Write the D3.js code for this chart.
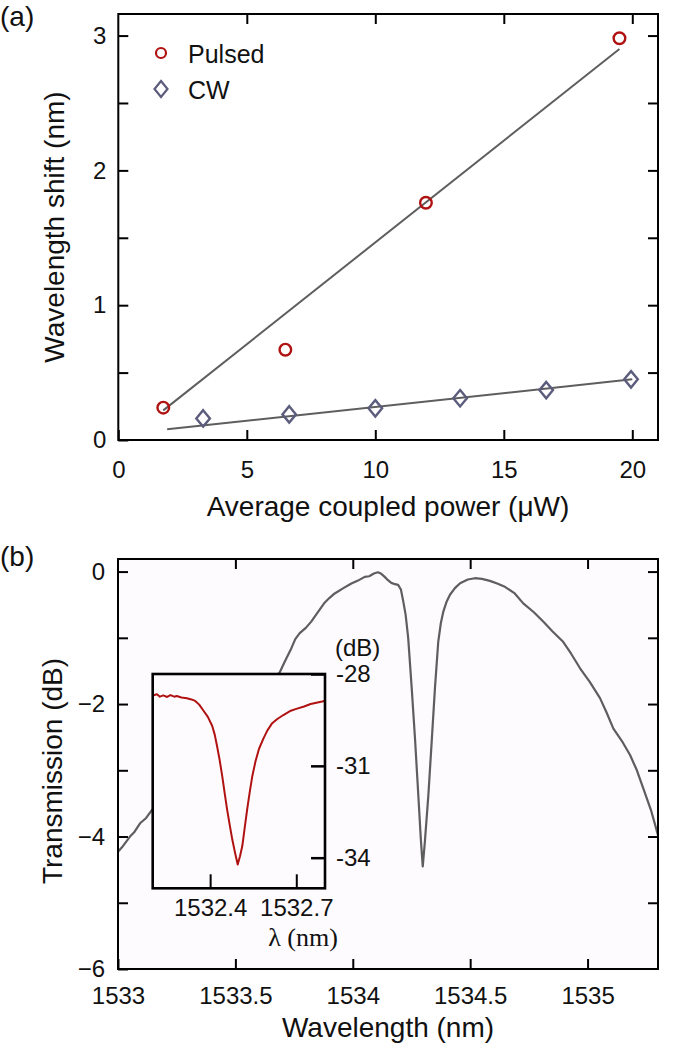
<!DOCTYPE html>
<html>
<head>
<meta charset="utf-8">
<script src="https://cdn.jsdelivr.net/npm/d3@7"></script>
<style>
  html, body { margin: 0; padding: 0; background: #ffffff; }
  svg { display: block; }
  text { font-family: "Liberation Sans", Arial, Helvetica, sans-serif; fill: #111; }
</style>
</head>
<body>
<script>
// ---------- Panel (a) data ----------
const pulsedPower = [1.75, 6.5, 11.97, 19.5];
const pulsedShift = [0.24, 0.67, 1.76, 2.98];
const cwPower = [3.3, 6.65, 10.0, 13.3, 16.65, 19.95];
const cwShift = [0.16, 0.19, 0.235, 0.31, 0.37, 0.45];
const pulsedFitPower = [1.75, 19.5];
const pulsedFitShift = [0.22, 2.9];
const cwFitPower = [1.9, 20.0];
const cwFitShift = [0.08, 0.45];
const aXTicks = [0, 5, 10, 15, 20];
const aYTicks = [0, 0.5, 1, 1.5, 2, 2.5, 3];
const legendLabels = ["Pulsed", "CW"];

// ---------- Panel (b) data ----------
const specWl = [1533.000,1533.020,1533.051,1533.070,1533.094,1533.120,1533.144,1533.250,1533.400,1533.550,1533.650,1533.689,1533.710,1533.738,1533.755,1533.774,1533.800,1533.823,1533.850,1533.880,1533.900,1533.923,1533.960,1533.994,1534.020,1534.051,1534.070,1534.090,1534.107,1534.120,1534.136,1534.150,1534.164,1534.180,1534.193,1534.205,1534.215,1534.225,1534.236,1534.251,1534.265,1534.279,1534.290,1534.298,1534.307,1534.322,1534.336,1534.350,1534.364,1534.375,1534.386,1534.400,1534.414,1534.435,1534.457,1534.490,1534.520,1534.550,1534.584,1534.615,1534.648,1534.690,1534.726,1534.770,1534.811,1534.850,1534.896,1534.930,1534.968,1535.010,1535.053,1535.080,1535.110,1535.150,1535.181,1535.210,1535.237,1535.270,1535.300];
const specDb = [-4.23,-4.15,-4.00,-3.93,-3.80,-3.72,-3.60,-3.25,-2.70,-2.10,-1.70,-1.52,-1.36,-1.16,-1.02,-0.93,-0.85,-0.755,-0.62,-0.47,-0.40,-0.33,-0.25,-0.18,-0.14,-0.08,-0.07,-0.03,-0.01,-0.03,-0.08,-0.13,-0.17,-0.19,-0.20,-0.27,-0.45,-0.65,-1.00,-1.76,-2.52,-3.37,-4.05,-4.45,-4.08,-3.37,-2.57,-1.76,-1.06,-0.78,-0.60,-0.45,-0.35,-0.25,-0.175,-0.12,-0.10,-0.11,-0.14,-0.18,-0.23,-0.33,-0.48,-0.61,-0.755,-0.90,-1.06,-1.24,-1.46,-1.67,-1.91,-2.12,-2.37,-2.58,-2.77,-3.00,-3.27,-3.60,-3.98];
const bXTicks = [1533, 1533.5, 1534, 1534.5, 1535];
const bYTicks = [-6, -5, -4, -3, -2, -1, 0];

// inset
const insetWl = [1532.200,1532.215,1532.225,1532.237,1532.250,1532.262,1532.275,1532.284,1532.300,1532.319,1532.335,1532.348,1532.362,1532.377,1532.392,1532.407,1532.416,1532.424,1532.433,1532.442,1532.450,1532.459,1532.468,1532.477,1532.487,1532.496,1532.504,1532.512,1532.520,1532.529,1532.538,1532.547,1532.558,1532.570,1532.585,1532.599,1532.615,1532.634,1532.655,1532.681,1532.700,1532.727,1532.750,1532.774,1532.790,1532.803];
const insetDb = [-28.70,-28.66,-28.74,-28.70,-28.75,-28.69,-28.74,-28.72,-28.77,-28.79,-28.83,-28.88,-29.00,-29.20,-29.40,-29.69,-29.98,-30.35,-30.80,-31.33,-31.85,-32.42,-32.92,-33.40,-33.85,-34.22,-33.95,-33.62,-33.05,-32.42,-31.85,-31.33,-30.85,-30.45,-30.12,-29.85,-29.62,-29.47,-29.34,-29.20,-29.14,-29.06,-28.98,-28.93,-28.90,-28.87];
const insetXTicks = [1532.4, 1532.7];
const insetYTicks = [-34, -31, -28];

// ---------- drawing ----------
const W = 685, H = 1044;
const svg = d3.select("body").append("svg").attr("width", W).attr("height", H);

const TICK_FS = 24, TITLE_FS = 28;
const gray = "#5e5e5e", red = "#b01212", slate = "#5c5c7c", bg = "#fefbfe";

function styleAxis(g, fs) {
  g.select(".domain").remove();
  g.selectAll(".tick line").attr("stroke", "#000").attr("stroke-width", 2);
  g.selectAll(".tick text").attr("font-size", fs).attr("fill", "#111")
    .attr("font-family", '"Liberation Sans", Arial, sans-serif');
}

// ===== Panel (a) =====
const aL = 118.3, aR = 658, aT = 14, aB = 440;
const xa = d3.scaleLinear().domain([0, 21]).range([aL, aR]);
const ya = d3.scaleLinear().domain([0, 3.16]).range([aB, aT]);

svg.append("text").attr("x", 0).attr("y", 26).attr("font-size", TITLE_FS).text("(a)");

const fmtInt = d => (Number.isInteger(d) ? String(d) : "");
svg.append("g").attr("transform", `translate(${aL},0)`)
  .call(d3.axisLeft(ya).tickValues(aYTicks).tickSize(-10).tickPadding(12).tickFormat(fmtInt))
  .call(g => styleAxis(g, TICK_FS));
svg.append("g").attr("transform", `translate(${aR},0)`)
  .call(d3.axisRight(ya).tickValues(aYTicks.slice(1)).tickSize(-10).tickFormat(""))
  .call(g => styleAxis(g, TICK_FS));
svg.append("g").attr("transform", `translate(0,${aB})`)
  .call(d3.axisBottom(xa).tickValues(aXTicks).tickSize(-10).tickPadding(21).tickFormat(d3.format("d")))
  .call(g => styleAxis(g, TICK_FS));
svg.append("g").attr("transform", `translate(0,${aT})`)
  .call(d3.axisTop(xa).tickValues(aXTicks.slice(1)).tickSize(-10).tickFormat(""))
  .call(g => styleAxis(g, TICK_FS));
svg.append("rect").attr("x", aL).attr("y", aT).attr("width", aR - aL).attr("height", aB - aT)
  .attr("fill", "none").attr("stroke", "#000").attr("stroke-width", 2);

const lineA = d3.line().x(d => xa(d[0])).y(d => ya(d[1]));
svg.append("path").attr("d", lineA(d3.zip(pulsedFitPower, pulsedFitShift)))
  .attr("fill", "none").attr("stroke", gray).attr("stroke-width", 2);
svg.append("path").attr("d", lineA(d3.zip(cwFitPower, cwFitShift)))
  .attr("fill", "none").attr("stroke", gray).attr("stroke-width", 2);

const diamond = (cx, cy, hw, hh) => `M${cx},${cy - hh}L${cx + hw},${cy}L${cx},${cy + hh}L${cx - hw},${cy}Z`;

svg.append("g").selectAll("circle").data(d3.zip(pulsedPower, pulsedShift)).join("circle")
  .attr("cx", d => xa(d[0])).attr("cy", d => ya(d[1])).attr("r", 5.8)
  .attr("fill", "none").attr("stroke", red).attr("stroke-width", 2.4);
svg.append("g").selectAll("path").data(d3.zip(cwPower, cwShift)).join("path")
  .attr("d", d => diamond(xa(d[0]), ya(d[1]), 6.8, 8.2))
  .attr("fill", "none").attr("stroke", slate).attr("stroke-width", 2.4);

// legend
svg.append("circle").attr("cx", 161).attr("cy", 53).attr("r", 5)
  .attr("fill", "none").attr("stroke", red).attr("stroke-width", 2.2);
svg.append("path").attr("d", diamond(161, 89, 6.5, 8))
  .attr("fill", "none").attr("stroke", slate).attr("stroke-width", 2.2);
svg.append("text").attr("x", 188).attr("y", 63).attr("font-size", 25).text(legendLabels[0]);
svg.append("text").attr("x", 188).attr("y", 99).attr("font-size", 25).text(legendLabels[1]);

// titles
svg.append("text").attr("x", 388).attr("y", 516).attr("text-anchor", "middle")
  .attr("font-size", TITLE_FS).text("Average coupled power (μW)");
svg.append("text").attr("transform", `translate(64,${(aT + aB) / 2}) rotate(-90)`)
  .attr("text-anchor", "middle").attr("font-size", TITLE_FS).text("Wavelength shift (nm)");

// ===== Panel (b) =====
const bL = 118, bR = 658, bT = 559, bB = 969;
const xb = d3.scaleLinear().domain([1533, 1535.3]).range([bL, bR]);
const yb = d3.scaleLinear().domain([-6, 0.19]).range([bB, bT]);

svg.append("text").attr("x", 0).attr("y", 566).attr("font-size", TITLE_FS).text("(b)");

svg.append("rect").attr("x", bL).attr("y", bT).attr("width", bR - bL).attr("height", bB - bT)
  .attr("fill", bg);

svg.append("defs").append("clipPath").attr("id", "clipB").append("rect")
  .attr("x", bL).attr("y", bT).attr("width", bR - bL).attr("height", bB - bT);

const lineB = d3.line().x(d => xb(d[0])).y(d => yb(d[1]));
svg.append("path").attr("d", lineB(d3.zip(specWl, specDb))).attr("clip-path", "url(#clipB)")
  .attr("fill", "none").attr("stroke", gray).attr("stroke-width", 2.2).attr("stroke-linejoin", "round");

svg.append("g").attr("transform", `translate(${bL},0)`)
  .call(d3.axisLeft(yb).tickValues(bYTicks).tickSize(-10).tickPadding(13)
    .tickFormat(d => (d % 2 === 0 ? d3.format("d")(d) : "")))
  .call(g => styleAxis(g, TICK_FS));
svg.append("g").attr("transform", `translate(${bR},0)`)
  .call(d3.axisRight(yb).tickValues(bYTicks.slice(1)).tickSize(-10).tickFormat(""))
  .call(g => styleAxis(g, TICK_FS));
svg.append("g").attr("transform", `translate(0,${bB})`)
  .call(d3.axisBottom(xb).tickValues(bXTicks).tickSize(-10).tickPadding(18).tickFormat(d => String(d)))
  .call(g => styleAxis(g, TICK_FS));
svg.append("g").attr("transform", `translate(0,${bT})`)
  .call(d3.axisTop(xb).tickValues(bXTicks.slice(1)).tickSize(-10).tickFormat(""))
  .call(g => styleAxis(g, TICK_FS));
svg.append("rect").attr("x", bL).attr("y", bT).attr("width", bR - bL).attr("height", bB - bT)
  .attr("fill", "none").attr("stroke", "#000").attr("stroke-width", 2);

svg.append("text").attr("x", 388).attr("y", 1037).attr("text-anchor", "middle")
  .attr("font-size", TITLE_FS).text("Wavelength (nm)");
svg.append("text").attr("transform", `translate(62,${(bT + bB) / 2 + 7}) rotate(-90)`)
  .attr("text-anchor", "middle").attr("font-size", TITLE_FS).text("Transmission (dB)");

// ===== Inset =====
const iL = 152.7, iR = 325, iT = 674, iB = 888.3;
const xi = d3.scaleLinear().domain([1532.2, 1532.8]).range([iL, iR]);
const yi = d3.scaleLinear().domain([-35, -28]).range([iB, iT]);

svg.append("rect").attr("x", iL).attr("y", iT).attr("width", iR - iL).attr("height", iB - iT)
  .attr("fill", bg);
svg.select("defs").append("clipPath").attr("id", "clipI").append("rect")
  .attr("x", iL).attr("y", iT).attr("width", iR - iL).attr("height", iB - iT);

const lineI = d3.line().x(d => xi(d[0])).y(d => yi(d[1]));
svg.append("path").attr("d", lineI(d3.zip(insetWl, insetDb))).attr("clip-path", "url(#clipI)")
  .attr("fill", "none").attr("stroke", red).attr("stroke-width", 2).attr("stroke-linejoin", "round");

svg.append("g").attr("transform", `translate(0,${iB})`)
  .call(d3.axisBottom(xi).tickValues(insetXTicks).tickSize(-14).tickPadding(11).tickFormat(d3.format(".1f")))
  .call(g => styleAxis(g, TICK_FS));
svg.append("g").attr("transform", `translate(${iR},0)`)
  .call(d3.axisRight(yi).tickValues(insetYTicks).tickSize(-14).tickPadding(11).tickFormat(d => String(d)))
  .call(g => styleAxis(g, TICK_FS))
  .call(g => g.selectAll(".tick line").attr("stroke-width", 2.5));
svg.append("rect").attr("x", iL).attr("y", iT).attr("width", iR - iL).attr("height", iB - iT)
  .attr("fill", "none").attr("stroke", "#000").attr("stroke-width", 2.6);

svg.append("text").attr("x", 335).attr("y", 656).attr("font-size", TICK_FS).text("(dB)");
svg.append("text").attr("x", 303).attr("y", 946).attr("text-anchor", "middle")
  .attr("font-size", 26)
  .style("font-family", '"Liberation Serif", "Times New Roman", serif').text("λ (nm)");
</script>
</body>
</html>
